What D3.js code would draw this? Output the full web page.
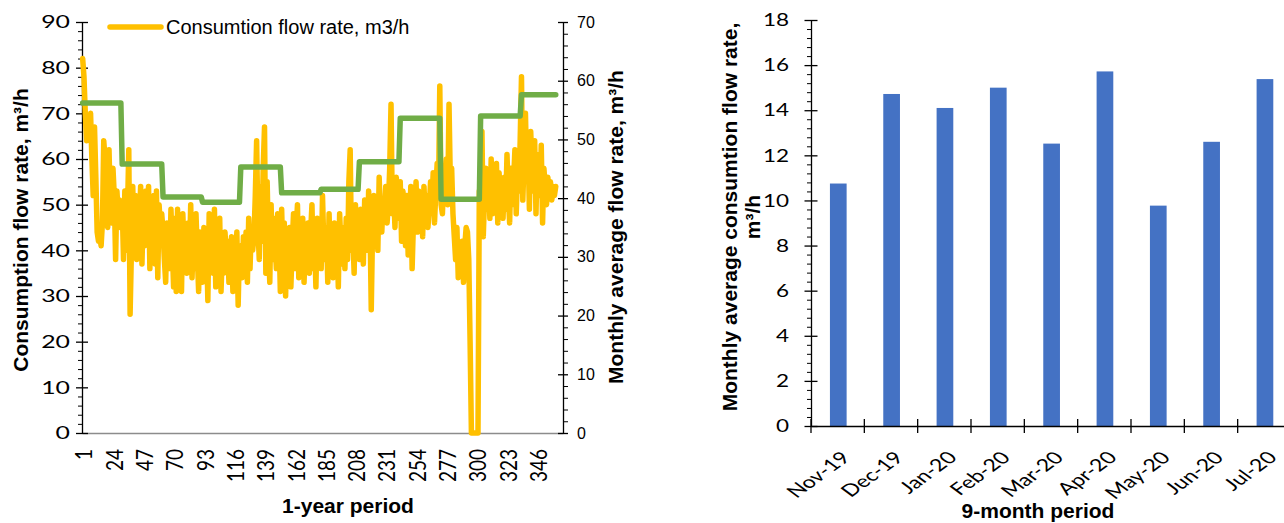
<!DOCTYPE html>
<html>
<head>
<meta charset="utf-8">
<script src="https://cdn.jsdelivr.net/npm/d3@7"></script>
<style>
  body { margin: 0; background: #fff; }
  svg { display: block; }
  .calibri { font-family: Lato, "Open Sans", sans-serif; fill: #000; }
  .arial { font-family: "Liberation Sans", Arial, sans-serif; fill: #000; }
  .title { font-family: "Liberation Sans", Arial, sans-serif; font-weight: bold; font-size: 21px; fill: #000; }
</style>
</head>
<body>
<div id="chart"></div>
<script>
//daily consumption flow rate, m3/h (left chart, left axis), days 1..360
var dailyFlow = [
  82, 78, 70, 64, 69, 66, 70, 60, 52, 67,
  56, 44, 42, 43, 41, 46, 64, 60, 48, 45,
  62, 50, 46, 58, 52, 38, 53, 48, 51, 45,
  50, 38, 53, 40, 48, 62, 26, 40, 54, 42,
  52, 38, 50, 46, 54, 37, 49, 41, 53, 47,
  54, 36, 51, 44, 52, 37, 53, 34, 50, 45,
  48, 44, 38, 33, 46, 40, 36, 49, 41, 32,
  47, 31, 49, 38, 45, 31, 48, 40, 44, 35,
  46, 38, 50, 34, 43, 36, 48, 39, 31, 44,
  40, 33, 45, 38, 42, 29, 48, 37, 44, 35,
  49, 32, 42, 38, 47, 31, 40, 35, 44, 39,
  42, 33, 38, 43, 31, 40, 36, 44, 28, 41,
  38, 34, 43, 38, 44, 33, 47, 36, 45, 40,
  43, 52, 64, 45, 38, 54, 42, 58, 67, 35,
  55, 41, 33, 50, 38, 47, 42, 36, 48, 44,
  31, 49, 38, 46, 30, 42, 37, 45, 32, 41,
  48, 36, 44, 50, 34, 43, 39, 47, 33, 42,
  38, 46, 35, 44, 50, 36, 42, 32, 47, 40,
  44, 36, 52, 41, 38, 45, 33, 48, 36, 42,
  34, 46, 39, 44, 32, 48, 41, 37, 45, 36,
  47, 38, 55, 62, 40, 44, 35, 50, 42, 46,
  38, 49, 43, 37, 51, 44, 40, 53, 47, 27,
  45, 52, 43, 48, 40, 56, 47, 44, 51, 48,
  54, 46, 50, 58, 72, 48, 52, 45, 56, 50,
  47, 55, 42, 53, 50, 41, 52, 39, 45, 54,
  36, 46, 50, 55, 44, 53, 48, 51, 43, 54,
  47, 52, 45, 49, 55, 50, 57, 46, 53, 59,
  52, 76, 50, 48, 56, 54, 60, 50, 72, 55,
  58, 48, 43, 38, 45, 34, 40, 36, 42, 33,
  41, 45, 44, 38, 20, 0, 0, 0, 0, 0,
  0, 53, 45, 66, 43, 52, 58, 49, 56, 47,
  60, 48, 55, 51, 59, 46, 57, 50, 53, 47,
  56, 49, 61, 52, 46, 58, 50, 55, 62, 48,
  57, 53, 64, 78, 51, 60, 70, 56, 62, 49,
  66, 58, 53, 64, 48, 61, 55, 52, 63, 46,
  58, 54, 50, 56, 52, 55, 51, 54, 52, 54
];

//monthly average flow rate (left chart, right axis) and how many days each month covers
var monthlyAvg = [56.2, 45.8, 40.2, 39.3, 45.3, 40.9, 41.5, 46.2, 53.6, 39.8, 54.0, 57.6];
var monthLength = [30, 31, 30, 29, 31, 30, 29, 31, 31, 30, 31, 27];

var dayCount = 365;
var dayTicks = [1, 24, 47, 70, 93, 116, 139, 162, 185, 208, 231, 254, 277, 300, 323, 346];
var leftTicks = [0, 10, 20, 30, 40, 50, 60, 70, 80, 90];
var rightTicks = [0, 10, 20, 30, 40, 50, 60, 70];

//right chart: monthly average consumption flow rate
var months = ["Nov-19", "Dec-19", "Jan-20", "Feb-20", "Mar-20", "Apr-20", "May-20", "Jun-20", "Jul-20"];
var monthAvgConsumption = [10.75, 14.72, 14.1, 15.0, 12.52, 15.72, 9.77, 12.6, 15.38];
var barTicks = [0, 2, 4, 6, 8, 10, 12, 14, 16, 18];

var width = 1284,
  height = 523;

var svg = d3
  .select("#chart")
  .append("svg")
  .attr("width", width)
  .attr("height", height);

//---------------- left chart ----------------
var x = d3.scaleLinear().domain([0.5, dayCount + 0.5]).range([82, 563]);
var yLeft = d3.scaleLinear().domain([0, 90]).range([433, 22]);
var yRight = d3.scaleLinear().domain([0, 70]).range([433, 22]);

//x axis line (grey, no ticks) with rotated day labels
var xAxis = svg
  .append("g")
  .attr("transform", "translate(0,433)")
  .call(d3.axisBottom(x).tickValues(dayTicks).tickSize(0).tickSizeOuter(0));
xAxis.select(".domain").attr("stroke", "#8c8c8c").attr("stroke-width", 1.3);
xAxis
  .selectAll("text")
  .attr("class", "calibri")
  .attr("x", 0)
  .attr("y", 0)
  .attr("dy", "0.36em")
  .attr("transform", "translate(1,16) scale(1.2,1) rotate(-90)")
  .style("text-anchor", "end")
  .style("font-size", "19px");

//left axis: minor ticks every 2, major ticks crossing the axis
svg
  .append("g")
  .attr("transform", "translate(82,0)")
  .call(
    d3
      .axisLeft(yLeft)
      .tickValues(d3.range(0, 91, 2).filter(function(v) { return v % 10 !== 0; }))
      .tickSize(4)
      .tickFormat("")
  )
  .select(".domain")
  .remove();

var leftAxis = svg
  .append("g")
  .attr("transform", "translate(82,0)")
  .call(d3.axisLeft(yLeft).tickValues(leftTicks).tickSize(6).tickSizeOuter(0));
leftAxis.selectAll(".tick line").attr("x1", 6).attr("stroke-width", 1.3);
leftAxis.select(".domain").attr("stroke-width", 1.3);
leftAxis
  .selectAll("text")
  .attr("class", "calibri")
  .attr("x", -12 / 1.38)
  .attr("transform", "scale(1.38,1)")
  .style("font-size", "18px");

//right axis for the monthly average
svg
  .append("g")
  .attr("transform", "translate(563,0)")
  .call(
    d3
      .axisRight(yRight)
      .tickValues(d3.range(0, 71, 2).filter(function(v) { return v % 10 !== 0; }))
      .tickSize(5)
      .tickFormat("")
  )
  .select(".domain")
  .remove();

var rightAxis = svg
  .append("g")
  .attr("transform", "translate(563,0)")
  .call(d3.axisRight(yRight).tickValues(rightTicks).tickSize(5).tickSizeOuter(0));
rightAxis.selectAll(".tick line").attr("x1", -5).attr("stroke-width", 1.3);
rightAxis.select(".domain").attr("stroke-width", 1.3);
rightAxis
  .selectAll("text")
  .attr("class", "arial")
  .attr("x", 14)
  .style("font-size", "16px");

//daily consumption line
var flowLine = d3
  .line()
  .x(function(d, i) { return x(i + 1); })
  .y(function(d) { return yLeft(d); });

svg
  .append("path")
  .datum(dailyFlow)
  .attr("d", flowLine)
  .attr("fill", "none")
  .attr("stroke", "#FFC000")
  .attr("stroke-width", 5.5)
  .attr("stroke-linejoin", "round")
  .attr("stroke-linecap", "round");

//monthly average as a step line: one flat run for each month
var stepPoints = [];
var dayStart = 1;
monthlyAvg.forEach(function(v, i) {
  var dayEnd = dayStart + monthLength[i] - 1;
  stepPoints.push([dayStart, v]);
  stepPoints.push([dayEnd, v]);
  dayStart = dayEnd + 1;
});

svg
  .append("path")
  .datum(stepPoints)
  .attr(
    "d",
    d3
      .line()
      .x(function(p) { return x(p[0]); })
      .y(function(p) { return yRight(p[1]); })
  )
  .attr("fill", "none")
  .attr("stroke", "#70AD47")
  .attr("stroke-width", 5.5)
  .attr("stroke-linejoin", "round")
  .attr("stroke-linecap", "round");

//legend
svg
  .append("line")
  .attr("x1", 110)
  .attr("x2", 161)
  .attr("y1", 27)
  .attr("y2", 27)
  .attr("stroke", "#FFC000")
  .attr("stroke-width", 5.5)
  .attr("stroke-linecap", "round");
svg
  .append("text")
  .attr("class", "arial")
  .attr("x", 166)
  .attr("y", 34)
  .style("font-size", "20px")
  .text("Consumtion flow rate, m3/h");

//axis titles
svg
  .append("text")
  .attr("class", "title")
  .attr("transform", "translate(28,230) rotate(-90)")
  .attr("text-anchor", "middle")
  .text("Consumption flow rate, m³/h");

svg
  .append("text")
  .attr("class", "title")
  .attr("transform", "translate(623,227) rotate(-90)")
  .attr("text-anchor", "middle")
  .text("Monthly average flow rate, m³/h");

svg
  .append("text")
  .attr("class", "title")
  .attr("x", 348)
  .attr("y", 513)
  .attr("text-anchor", "middle")
  .text("1-year period");

//---------------- right chart ----------------
var xBar = d3.scaleBand().domain(months).range([811, 1291]).padding(0);
var yBar = d3.scaleLinear().domain([0, 18]).range([426, 20]);

//bars
svg
  .selectAll(".bar")
  .data(months)
  .enter()
  .append("rect")
  .attr("class", "bar")
  .attr("x", function(m) { return xBar(m) + xBar.bandwidth() * 0.355; })
  .attr("width", xBar.bandwidth() * 0.313)
  .attr("y", function(m, i) { return yBar(monthAvgConsumption[i]); })
  .attr("height", function(m, i) { return yBar(0) - yBar(monthAvgConsumption[i]); })
  .attr("fill", "#4472C4");

//y axis with minor ticks every 0.4
svg
  .append("g")
  .attr("transform", "translate(811,0)")
  .call(
    d3
      .axisLeft(yBar)
      .tickValues(d3.range(0, 46).filter(function(i) { return i % 5 !== 0; }).map(function(i) { return i * 0.4; }))
      .tickSize(4)
      .tickFormat("")
  )
  .select(".domain")
  .remove();

var barAxis = svg
  .append("g")
  .attr("transform", "translate(811,0)")
  .call(d3.axisLeft(yBar).tickValues(barTicks).tickSize(6.5).tickSizeOuter(0));
barAxis.selectAll(".tick line").attr("x1", 6.5).attr("stroke-width", 1.3);
barAxis.select(".domain").attr("stroke-width", 1.3);
barAxis
  .selectAll("text")
  .attr("class", "calibri")
  .attr("x", -22 / 1.25)
  .attr("transform", "scale(1.25,1)")
  .style("font-size", "18px");

//x axis: line, ticks on category boundaries, rotated month labels
var barXAxis = svg
  .append("g")
  .attr("transform", "translate(0,426)")
  .call(d3.axisBottom(xBar).tickSize(0).tickSizeOuter(0));
barXAxis.select(".domain").attr("stroke-width", 1.3);
barXAxis
  .selectAll("text")
  .attr("class", "calibri")
  .attr("x", 0)
  .attr("y", 0)
  .attr("dy", "0.72em")
  .attr("transform", "translate(2,24) scale(1.37,1) rotate(-45)")
  .style("text-anchor", "end")
  .style("font-size", "17px");

svg
  .append("g")
  .selectAll("line")
  .data(months)
  .enter()
  .append("line")
  .attr("x1", function(m) { return xBar(m); })
  .attr("x2", function(m) { return xBar(m); })
  .attr("y1", 419)
  .attr("y2", 433)
  .attr("stroke", "#000")
  .attr("stroke-width", 1.3);

//titles
var barTitle = svg
  .append("text")
  .attr("class", "title")
  .attr("transform", "translate(737,217) rotate(-90)")
  .attr("text-anchor", "middle");
barTitle.append("tspan").attr("x", 0).attr("y", 0).text("Monthly average consumtion flow rate,");
barTitle.append("tspan").attr("x", 0).attr("y", 23).text("m³/h");

svg
  .append("text")
  .attr("class", "title")
  .attr("x", 1038)
  .attr("y", 518)
  .attr("text-anchor", "middle")
  .text("9-month period");
</script>
</body>
</html>
